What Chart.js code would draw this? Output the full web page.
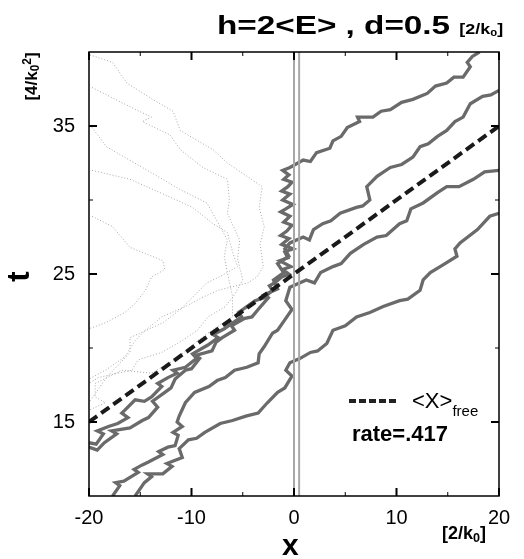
<!DOCTYPE html>
<html>
<head>
<meta charset="utf-8">
<script src="https://cdn.jsdelivr.net/npm/chart.js@4/dist/chart.umd.min.js"></script>
<style>
body { margin: 0; background: #fff; font-family: "Liberation Sans", Arial, sans-serif; }
#wrap { position: relative; width: 524px; height: 559px; }
canvas { position: absolute; left: 0; top: 0; }
.lbl { position: absolute; font-weight: bold; color: #000; white-space: nowrap; line-height: 1; }
sub { font-size: 0.7em; vertical-align: -0.25em; line-height: 0; }
sup { font-size: 0.7em; vertical-align: 0.45em; line-height: 0; }
</style>
</head>
<body>
<div id="wrap">
  <canvas id="chart" width="524" height="559"></canvas>
  <div class="lbl" style="left:217px;top:12px;font-size:26px;transform:scaleX(1.28);transform-origin:left center;">h=2&lt;E&gt; , d=0.5 <span style="font-size:14px;">[2/k<sub>0</sub>]</span></div>
  <div class="lbl" style="left:282px;top:530px;font-size:30px;">x</div>
  <div class="lbl" style="left:442px;top:524px;font-size:18px;">[2/k<sub>0</sub>]</div>
  <div class="lbl" style="left:13px;top:261px;font-size:31px;transform:rotate(-90deg);transform-origin:center;">t</div>
  <div class="lbl" style="left:-11px;top:68px;font-size:17px;transform:rotate(-90deg);transform-origin:center;width:84px;text-align:center;">[4/k<sub>0</sub><sup>2</sup>]</div>
  <div style="position:absolute;left:349px;top:399px;width:48px;height:4px;background:repeating-linear-gradient(to right,#222 0 7px,transparent 7px 10px);"></div>
  <div class="lbl" style="left:412px;top:390px;font-size:22px;font-weight:normal;">&lt;X&gt;<span style="font-size:15px;position:relative;top:8px;">free</span></div>
  <div class="lbl" style="left:352px;top:423px;font-size:22px;">rate=.417</div>
</div>
<script>
// axis ranges and ticks
const xRange = [-20, 20];
const tRange = [10, 40];
const xTicks = [-20, -10, 0, 10, 20];
const xMinor = [-15, -5, 5, 15];
const tTicks = [15, 25, 35];
const tMinor = [20, 30];

// mean free motion <x>_free
const freeLine = [[-20, 15], [20, 35]];
// barrier at x=0, width d=0.5
const wallX = [0, 0.5];

// transmitted trajectories (solid gray)
const trace1 = [[-20,13.6],[-19.3,13.5],[-18.6,14.2],[-19.2,14.4],[-18.1,14.7],[-17.2,14.9],[-16.2,15.3],[-16.8,15.6],[-16.5,15.8],[-15.5,16.5],[-14.6,16.4],[-13.9,16.7],[-12.9,17.4],[-13.3,17.6],[-12.3,18.0],[-11.4,18.3],[-11.8,18.5],[-10.6,18.7],[-9.5,19.3],[-9.9,19.6],[-8.4,20.2],[-7.4,20.7],[-7.9,20.9],[-6.8,21.3],[-6.2,21.6],[-5.1,22.1],[-5.4,22.4],[-4.6,22.8],[-3.8,23.2],[-2.9,23.4],[-2.1,23.9],[-2.4,24.2],[-1.9,24.4],[-1.2,24.8],[-0.5,25.0],[-1.1,25.3],[-0.3,25.5],[-1.4,25.9],[-0.6,26.1],[-0.9,26.5],[-0.1,26.7],[-1.2,27.0],[-0.5,27.4],[-1.3,27.6],[-0.7,27.9],[-0.2,28.3],[-1.0,28.5],[-0.4,28.9],[-1.3,29.2],[-0.8,29.4],[-0.1,29.7],[-1.1,30.0],[-0.4,30.4],[-1.2,30.6],[-0.6,30.9],[-0.2,31.2],[-1.0,31.4],[-0.5,31.7],[-1.1,32.0],[-0.4,32.2],[0.9,32.7],[1.6,32.6],[2.2,33.2],[3.5,33.5],[3.8,34.0],[4.6,34.3],[5.2,34.9],[6.4,35.3],[6.2,35.6],[7.7,35.6],[8.5,36.0],[9.4,36.1],[10.5,36.6],[11.6,36.8],[13,37.2],[13.8,37.7],[14.9,37.9],[15.6,38.3],[16.5,38.3],[17.2,39.0],[16.9,39.3],[17.4,39.7],[18.1,40]];
const trace2 = [[-20,13.3],[-19.2,13.1],[-18.5,13.6],[-17.3,14.2],[-17.8,14.4],[-16,14.6],[-14.8,15.1],[-14.2,15.3],[-13.3,16.0],[-13.8,16.4],[-12.6,17.0],[-12.0,17.3],[-11.6,17.9],[-10.6,18.5],[-10.0,18.6],[-9.2,19.3],[-9.6,19.5],[-8.0,19.8],[-7.6,20.4],[-7.0,20.7],[-5.8,21.2],[-6.1,21.5],[-4.8,22.0],[-4.1,22.1],[-3.5,22.6],[-2.5,23.4],[-2.9,23.6],[-1.6,24.0],[-2.0,24.6],[-1.0,25.1],[-1.6,25.7],[-0.5,26.2],[-0.9,26.7],[-0.4,27.1],[0.9,27.5],[1.5,27.3],[1.9,28.0],[2.8,28.4],[3.6,28.6],[4.5,29.1],[6.1,29.5],[6.7,29.6],[7.4,30.0],[7.1,30.9],[8.1,31.6],[9.4,32.2],[10.5,32.4],[11.6,32.9],[12.3,33.6],[13.1,33.8],[14,34.3],[14.9,34.7],[15.7,35.3],[16.5,35.6],[17.2,36.5],[18.4,37.0],[19.2,37.1],[20,37.4]];
const trace3 = [[-17.7,10],[-17.0,10.7],[-17.4,10.9],[-16.6,11],[-15.2,11.6],[-15.6,11.8],[-14.8,12.1],[-14.2,12.3],[-12.8,12.8],[-13.2,13.0],[-12.3,13.3],[-11.6,13.4],[-11.3,14.1],[-11.8,14.3],[-10.9,14.7],[-11.4,15.0],[-11.2,15.4],[-10.6,16.3],[-9.7,17.0],[-8.3,17.4],[-7.5,17.8],[-6.7,18.0],[-5.8,18.5],[-4.6,18.7],[-3.5,19.0],[-3.4,19.6],[-2.9,20.1],[-2.1,21.0],[-1.6,21.2],[-0.9,21.9],[-0.2,22.6],[-0.8,23.2],[-0.4,24.1],[1.2,24.6],[2.0,24.4],[2.6,25.1],[3.8,25.5],[4.6,25.7],[5.5,26.4],[6.8,27.0],[8.1,27.5],[9.0,27.6],[10.3,28.4],[11.0,28.6],[11.4,29.4],[12.6,29.8],[14,30.5],[14.9,30.9],[16.1,30.9],[17.5,31.4],[18.6,31.9],[20,32.0]];
const trace4 = [[-15.5,10],[-14.9,10.6],[-14.6,10.9],[-13.9,11.3],[-14.3,11.5],[-12.8,11.5],[-11.9,12.0],[-12.4,12.2],[-10.9,12.6],[-11.2,13.2],[-10.3,13.8],[-9.5,13.9],[-8.7,14.3],[-7.2,14.9],[-6,15.1],[-4.7,15.4],[-3.5,15.6],[-2.6,16.3],[-1.6,17.0],[-0.9,17.3],[-0.2,18.1],[-0.8,18.5],[-0.4,19.0],[0.6,19.3],[1.6,19.7],[2.3,19.8],[3.2,20.3],[3.8,21.2],[5.0,21.5],[6.1,22.1],[7.4,22.4],[8.7,22.8],[10.3,23.2],[11.1,23.3],[12.3,23.9],[12.6,24.6],[13.3,25.1],[14.5,25.6],[15.9,26.2],[15.7,26.7],[16.2,27.1],[17.9,28.0],[19.1,28.9],[20,29.1]];

// reflected trajectories (dotted)
const refl1 = [[-19.9,39.8],[-17.7,39.3],[-16.3,37.9],[-13.8,36.8],[-11.8,36.0],[-11.1,34.7],[-7.9,33.4],[-6.5,32.5],[-3.1,30.9],[-3.4,29.5],[-2.9,28.2],[-3.3,27],[-3.0,25.5],[-3.6,24.8],[-4.5,24.4],[-7.4,23.9],[-9,23.4],[-10.6,22.8],[-12.9,22.1],[-14.5,21.2],[-15.5,20.5],[-16.5,19.4],[-18.4,18.5],[-20,17.9]];
const refl2 = [[-19.7,37.6],[-16,36.3],[-13.9,35.6],[-14.8,35.3],[-12.1,34.4],[-11.1,33.4],[-8.9,32.2],[-6.5,31.4],[-6.3,30],[-6.5,29.1],[-5.3,27.3],[-5.5,26],[-5.0,24.6],[-5.8,23.6],[-6.7,22.8],[-8.4,22.1],[-9.4,21.2],[-10.9,20.5],[-12.9,19.7],[-15.2,19.2],[-15.8,18.5],[-17.2,18.3],[-19.1,18.0],[-20,17.6]];
const refl3 = [[-19.7,34.9],[-18.3,33.6],[-14.3,32.0],[-11.1,30.7],[-8.5,29.8],[-7.2,28.2],[-6.5,27.3],[-6.8,26.2],[-6.5,25.1],[-6.0,23.5],[-6,22.1],[-8,21.2],[-9.4,20.5],[-11.6,19.2],[-13.9,18.3],[-16.8,18.5],[-19.4,17.6],[-19.4,16.7],[-18.4,16.3],[-20,15.8]];
const refl4 = [[-19.7,32.0],[-16,31.4],[-12.1,30.2],[-9.9,29.5],[-7.9,28.4],[-6.5,27.8],[-6.0,26.5],[-5.5,25.5],[-7.3,24.8],[-8.5,24.4],[-11.1,22.6],[-12.8,21.7],[-16,20.7],[-16,19.7],[-18.3,18.0],[-19.6,16.7],[-20,16.3]];
const refl5 = [[-19.7,28.9],[-17.7,28.2],[-16,26.8],[-12.8,25.9],[-12.6,25.3],[-13.9,24.8],[-14.5,23.9],[-15.5,23.0],[-16.5,22.4],[-18.4,21.7],[-20,21.3]];

const toPts = arr => arr.map(p => ({ x: p[0], y: p[1] }));
const line = (pts, color, width, dash) => ({
    data: toPts(pts), showLine: true, pointRadius: 0, borderColor: color,
    borderWidth: width, borderDash: dash || [], tension: 0, fill: false
});

const datasets = [
    line(freeLine, '#1a1a1a', 4, [10, 5]),
    ...wallX.map(v => line([[v, tRange[0]], [v, tRange[1]]], '#a8a8a8', 2)),
    ...[trace1, trace2, trace3, trace4].map(tr => line(tr, '#6a6a6a', 3.3)),
    ...[refl1, refl2, refl3, refl4, refl5].map(tr => line(tr, '#a8a8a8', 1, [1, 2]))
];

// frame box plus inward ticks on all four sides
const frame = {
    id: 'frame',
    afterDatasetsDraw(chart) {
        const { ctx, chartArea: a, scales: { x, y } } = chart;
        ctx.save();
        ctx.strokeStyle = '#000';
        ctx.lineWidth = 1.5;
        ctx.strokeRect(a.left, a.top, a.right - a.left, a.bottom - a.top);
        const tick = (vals, len, w) => {
            ctx.lineWidth = w;
            ctx.beginPath();
            vals.forEach(v => {
                const px = x.getPixelForValue(v);
                ctx.moveTo(px, a.bottom); ctx.lineTo(px, a.bottom - len);
                ctx.moveTo(px, a.top); ctx.lineTo(px, a.top + len);
            });
            ctx.stroke();
        };
        const tickY = (vals, len, w) => {
            ctx.lineWidth = w;
            ctx.beginPath();
            vals.forEach(v => {
                const py = y.getPixelForValue(v);
                ctx.moveTo(a.left, py); ctx.lineTo(a.left + len, py);
                ctx.moveTo(a.right, py); ctx.lineTo(a.right - len, py);
            });
            ctx.stroke();
        };
        tick(xTicks, 8, 2);
        tick(xMinor, 4, 1);
        tickY(tTicks, 8, 2);
        tickY(tMinor, 4, 1);
        ctx.restore();
    }
};

new Chart(document.getElementById('chart').getContext('2d'), {
    type: 'scatter',
    data: { datasets: datasets },
    options: {
        responsive: false,
        animation: false,
        layout: { padding: { left: 0, right: 25, top: 52, bottom: 0 } },
        plugins: { legend: { display: false }, tooltip: { enabled: false } },
        scales: {
            x: {
                type: 'linear', min: xRange[0], max: xRange[1],
                afterBuildTicks: s => { s.ticks = xTicks.map(v => ({ value: v })); },
                afterFit: s => { s.height = 63; },
                grid: { display: false, drawTicks: false },
                border: { display: false },
                ticks: { color: '#000', padding: 10, font: { family: 'Liberation Sans', size: 20 } }
            },
            y: {
                type: 'linear', min: tRange[0], max: tRange[1],
                afterBuildTicks: s => { s.ticks = tTicks.map(v => ({ value: v })); },
                afterFit: s => { s.width = 89; },
                grid: { display: false, drawTicks: false },
                border: { display: false },
                ticks: { color: '#000', padding: 14, font: { family: 'Liberation Sans', size: 20 } }
            }
        }
    },
    plugins: [frame]
});
</script>
</body>
</html>
